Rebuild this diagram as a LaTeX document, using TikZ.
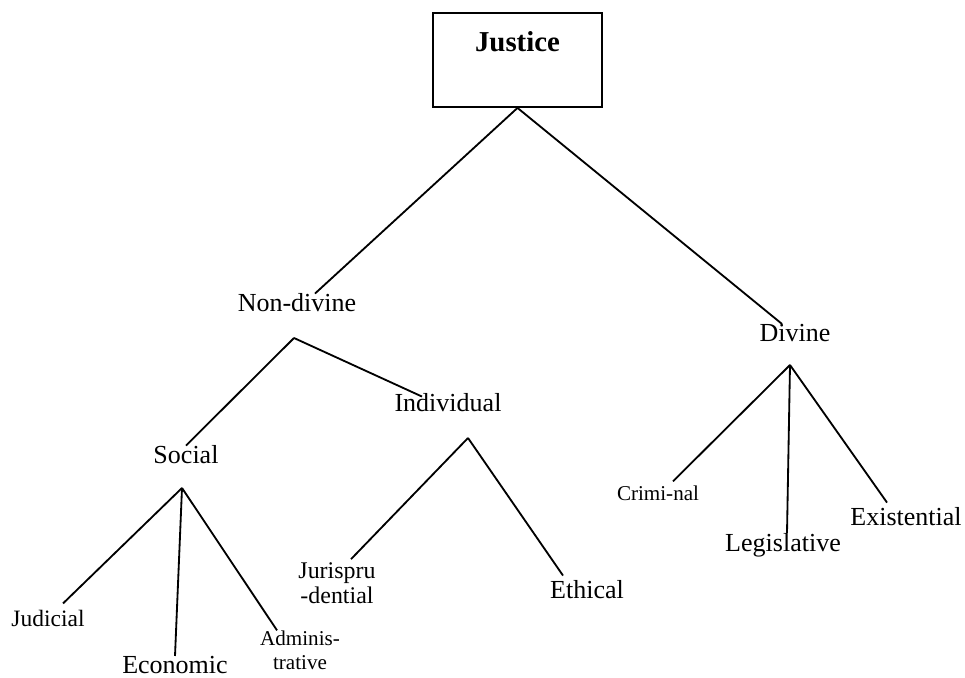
\documentclass[tikz,border=0pt]{standalone}
\usepackage{fontspec}
\setmainfont{Liberation Serif}
\usepackage{tikz}
\usetikzlibrary{calc}

\tikzset{
  kind/.style={inner sep=0pt, font=\fontsize{18.5}{22}\selectfont},
  midkind/.style={inner sep=0pt, font=\fontsize{17}{17.8}\selectfont, align=center},
  smallkind/.style={inner sep=0pt, font=\fontsize{15}{17}\selectfont, align=center},
  branch/.style={line width=1.3pt},
}

\begin{document}
\begin{tikzpicture}[x=0.025cm, y=0.025cm]
      \useasboundingbox (0,0) rectangle (965,677);

      \node[draw, line width=1.3pt, inner sep=0pt, minimum width=4.225cm,
            text height=0.975cm, text depth=1.375cm,
            font=\fontsize{20.5}{24}\selectfont\bfseries] (justice) at (517.5,617) {Justice};

      \node[kind] (nondivine) at (297,374) {Non-divine};
      \node[kind] (divine)    at (795,344) {Divine};

      \node[kind] (social)     at (186,222) {Social};
      \node[kind] (individual) at (448,274) {Individual};

      \node[kind, font=\fontsize{16.7}{20}\selectfont] (judicial) at (48,59) {Judicial};
      \node[kind]      (economic) at (175,12) {Economic};
      \node[smallkind] (admin)    at (300,27) {Adminis-\\trative};

      \node[midkind] (juris)   at (337,94) {Jurispru\\-dential};
      \node[kind]    (ethical) at (587,87) {Ethical};

      \node[smallkind] (criminal)    at (658,184) {Crimi-nal};
      \node[kind]      (legislative) at (783,132) {Legislative};
      \node[kind]      (existential) at (906,160) {Existential};

      % forks under the parents
      \coordinate (nd-fork) at (294,339);
      \coordinate (so-fork) at (182,189);
      \coordinate (in-fork) at (468,239);
      \coordinate (di-fork) at (790,312);

      \draw[branch] (justice.south) -- ($(nondivine.north)+(18,0)$);
      \draw[branch] (justice.south) -- ($(divine.north)+(-13,0)$);

      \draw[branch] (nd-fork) -- (social.north);
      \draw[branch] (nd-fork) -- ($(individual.north)+(-26,-3)$);

      \draw[branch] (so-fork) -- ($(judicial.north)+(15,6)$);
      \draw[branch] (so-fork) -- (economic.north);
      \draw[branch] (so-fork) -- ($(admin.north)+(-23,0)$);

      \draw[branch] (in-fork) -- ($(juris.north)+(14,3)$);
      \draw[branch] (in-fork) -- ($(ethical.north)+(-24,5)$);

      \draw[branch] (di-fork) -- ($(criminal.north)+(15,4)$);
      \draw[branch] (di-fork) -- ($(legislative.north)+(4,0)$);
      \draw[branch] (di-fork) -- ($(existential.north)+(-19,5)$);

\end{tikzpicture}
\end{document}
